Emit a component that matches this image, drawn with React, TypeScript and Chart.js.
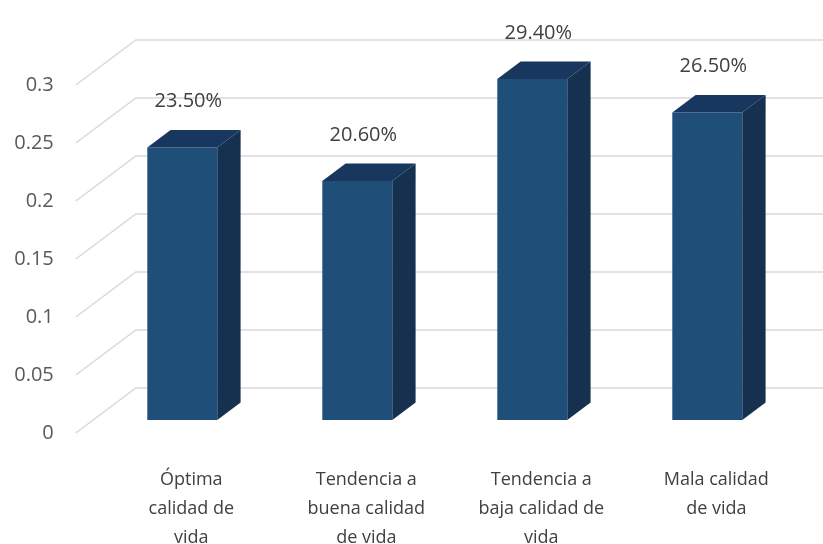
import React, { useEffect, useRef } from 'react';
import { Chart, registerables } from 'chart.js';

Chart.register(...registerables);

const categories: string[][] = [
  ['Óptima', 'calidad de', 'vida'],
  ['Tendencia a', 'buena calidad', 'de vida'],
  ['Tendencia a', 'baja calidad de', 'vida'],
  ['Mala calidad', 'de vida'],
];
const values: number[] = [0.235, 0.206, 0.294, 0.265];
const valueLabels: string[] = ['23.50%', '20.60%', '29.40%', '26.50%'];
const yTicks: number[] = [0, 0.05, 0.1, 0.15, 0.2, 0.25, 0.3];

const FRONT = '#1f4e79';
const TOP = '#17375e';
const SIDE = '#15314f';
const GRID = '#d9d9d9';
const FONT = "'Open Sans', 'Liberation Sans', sans-serif";

// 3D geometry (pixels)
const WALL_DX = 60;
const WALL_DY = 45;
const FRONT_SHIFT = -19;
const BAR_DX = 23.3;
const BAR_DY = 17.5;
const BAR_PLANE_OFFSET = 13;
const PX_PER_UNIT = 1160;

const depthPlugin = {
  id: 'depth3d',
  beforeDatasetsDraw(chart: any) {
    const { ctx, chartArea, scales } = chart;
    const y = scales.y;
    const fx = chartArea.left + FRONT_SHIFT;
    const bx = fx + WALL_DX;
    ctx.save();
    ctx.strokeStyle = GRID;
    ctx.lineWidth = 1.5;
    for (const t of yTicks) {
      const py = y.getPixelForValue(t);
      ctx.beginPath();
      ctx.moveTo(fx, py);
      ctx.lineTo(bx, py - WALL_DY);
      ctx.lineTo(chart.width, py - WALL_DY);
      ctx.stroke();
    }
    ctx.restore();
  },
  afterDatasetsDraw(chart: any) {
    const { ctx } = chart;
    const meta = chart.getDatasetMeta(0);
    ctx.save();
    meta.data.forEach((bar: any, i: number) => {
      const { x, y, base, width } = bar.getProps(['x', 'y', 'base', 'width'], true);
      const L = x - width / 2;
      const R = x + width / 2;
      // top face
      ctx.fillStyle = TOP;
      ctx.beginPath();
      ctx.moveTo(L, y);
      ctx.lineTo(L + BAR_DX, y - BAR_DY);
      ctx.lineTo(R + BAR_DX, y - BAR_DY);
      ctx.lineTo(R, y);
      ctx.closePath();
      ctx.fill();
      // side face
      ctx.fillStyle = SIDE;
      ctx.beginPath();
      ctx.moveTo(R, y);
      ctx.lineTo(R + BAR_DX, y - BAR_DY);
      ctx.lineTo(R + BAR_DX, base - BAR_DY);
      ctx.lineTo(R, base);
      ctx.closePath();
      ctx.fill();
      // value label
      ctx.fillStyle = '#404040';
      ctx.font = `20px ${FONT}`;
      ctx.textAlign = 'center';
      ctx.textBaseline = 'middle';
      ctx.fillText(valueLabels[i], x + 6, y - 46);
    });
    ctx.restore();
  },
};

export default function App() {
  const ref = useRef<HTMLCanvasElement | null>(null);
  useEffect(() => {
    if (!ref.current) return;
    const offset = BAR_PLANE_OFFSET / PX_PER_UNIT;
    const chart = new Chart(ref.current, {
      type: 'bar',
      data: {
        labels: categories,
        datasets: [
          {
            data: values,
            backgroundColor: FRONT,
            borderWidth: 0,
            yAxisID: 'y2',
            barPercentage: 0.4,
            categoryPercentage: 1,
            clip: false as any,
          },
        ],
      },
      options: {
        animation: false,
        responsive: true,
        maintainAspectRatio: false,
        layout: { padding: { top: 85, right: 28.2, left: 0, bottom: 0 } },
        plugins: {
          legend: { display: false },
          tooltip: { enabled: false },
        },
        scales: {
          x: {
            grid: { display: false, drawTicks: false },
            border: { display: false },
            ticks: {
              color: '#404040',
              font: { family: FONT, size: 18, lineHeight: '29px' } as any,
              padding: 32,
              labelOffset: 9,
              maxRotation: 0,
              minRotation: 0,
              autoSkip: false,
            },
            afterFit: (s: any) => {
              s.height = 111;
            },
          },
          y: {
            min: 0,
            max: 0.3,
            grid: { display: false, drawTicks: false },
            border: { display: false },
            ticks: {
              stepSize: 0.05,
              color: '#595959',
              font: { family: FONT, size: 20 },
              padding: 41,
              callback: (v: any) => String(Number(Number(v).toFixed(2))),
            },
            afterFit: (s: any) => {
              s.width = 94.8;
            },
          },
          y2: {
            display: false,
            min: -offset,
            max: 0.3 - offset,
          },
        },
      },
      plugins: [depthPlugin],
    });
    return () => chart.destroy();
  }, []);
  return (
    <div style={{ position: 'fixed', left: 0, top: 0, width: 823, height: 544 }}>
      <canvas ref={ref} />
    </div>
  );
}
